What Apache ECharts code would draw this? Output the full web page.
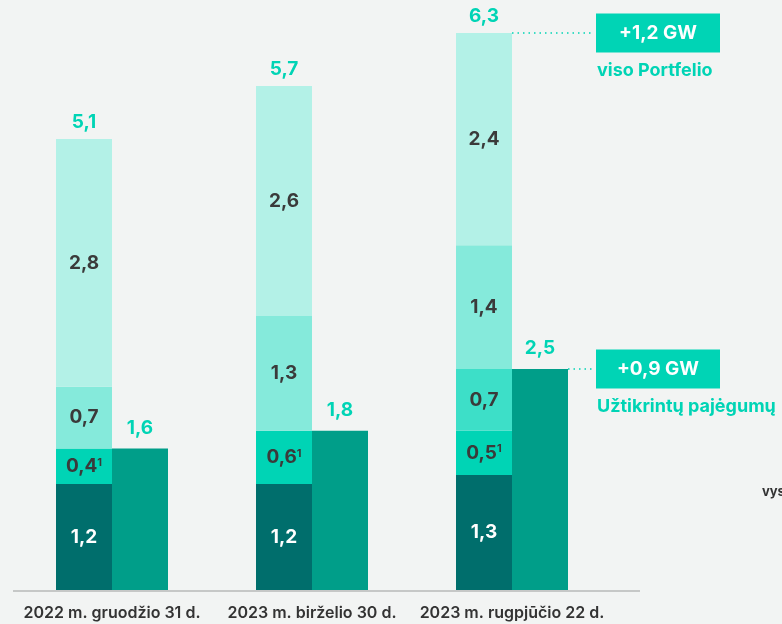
<!DOCTYPE html>
<html><head><meta charset="utf-8">
<script src="https://cdn.jsdelivr.net/npm/echarts@6/dist/echarts.min.js"></script>
<style>html,body{margin:0;padding:0;background:#f2f4f3}#c{width:782px;height:624px}</style>
</head><body><div id="c"></div>
<script>
const categories = ['2022 m. gruodžio 31 d.', '2023 m. birželio 30 d.', '2023 m. rugpjūčio 22 d.'];
const seg1 = [1.2, 1.2, 1.3];
const seg2 = [0.4, 0.6, 0.5];
const seg3 = [null, null, 0.7];
const seg4 = [0.7, 1.3, 1.4];
const seg5 = [2.8, 2.6, 2.4];
const totals = [5.1, 5.7, 6.3];
const secured = [1.6, 1.8, 2.5];
const noteTop = ['+1,2 GW', 'viso Portfelio'];
const noteBottom = ['+0,9 GW', 'Užtikrintų pajėgumų'];
const sideText = 'vys';

const FONT = 'Inter';
const DARK = '#3a3a3a';
const BRIGHT = '#00d4b5';
const fmt = v => String(v).replace('.', ',');

function inLabel(extra) {
  return Object.assign({show: true, position: 'inside', color: DARK, fontSize: 19, fontWeight: 'bold', fontFamily: FONT,
    formatter: p => p.value == null ? '' : fmt(p.value)}, extra || {});
}
const chart = echarts.init(document.getElementById('c'));
const BW = 56;
const option = {
  backgroundColor: '#f2f4f3',
  animation: false,
  grid: {left: 12, right: 170, top: 33, bottom: 34},
  xAxis: {type: 'category', data: categories, axisLine: {show: false}, axisTick: {show: false},
    axisLabel: {color: '#333', fontSize: 16, fontWeight: 600, fontFamily: FONT, margin: 15, interval: 0}},
  yAxis: {type: 'value', min: 0, max: 6.3, show: false, splitLine: {show: false}},
  series: [
    {type: 'bar', stack: 'p', barWidth: BW, data: seg1, itemStyle: {color: '#006e6c'}, label: inLabel({color: '#fff'})},
    {type: 'bar', stack: 'p', barWidth: BW, data: seg2, itemStyle: {color: '#00d4b5'},
      label: inLabel({formatter: p => fmt(p.value) + '{s|1}', rich: {s: {fontSize: 11, fontWeight: 'bold', color: DARK, fontFamily: FONT, verticalAlign: 'top', padding: [0,0,8,0]}}})},
    {type: 'bar', stack: 'p', barWidth: BW, data: seg3, itemStyle: {color: '#3ddfc8'}, label: inLabel()},
    {type: 'bar', stack: 'p', barWidth: BW, data: seg4, itemStyle: {color: '#85eadb'}, label: inLabel()},
    {type: 'bar', stack: 'p', barWidth: BW, data: seg5, itemStyle: {color: '#b3f1e7'}, label: inLabel()},
    {type: 'bar', stack: 'p', barWidth: BW, data: totals.map(() => 0), itemStyle: {color: 'transparent'},
      label: {show: true, position: 'top', distance: 7, color: BRIGHT, fontSize: 19, fontWeight: 'bold', fontFamily: FONT,
        formatter: p => fmt(totals[p.dataIndex])}},
    {type: 'bar', barWidth: BW, barGap: '0%', data: secured, itemStyle: {color: '#009e89'},
      label: {show: true, position: 'top', distance: 11, color: BRIGHT, fontSize: 19, fontWeight: 'bold', fontFamily: FONT, formatter: p => fmt(p.value)}}
  ]
};
chart.setOption(option);

const base = chart.convertToPixel({gridIndex: 0}, [0, 0]);
const pTop = chart.convertToPixel({gridIndex: 0}, [2, totals[2]]);
const pSec = chart.convertToPixel({gridIndex: 0}, [2, secured[2]]);
const boxX = 596, boxW = 124, boxH = 39;
function note(y, lines, lineStartX) {
  return [
    {type: 'line', shape: {x1: lineStartX, y1: y, x2: boxX - 2, y2: y}, style: {stroke: BRIGHT, lineWidth: 1.5, lineDash: [1.5, 4]}},
    {type: 'rect', shape: {x: boxX, y: y - boxH / 2, width: boxW, height: boxH}, style: {fill: '#00d4b5'}},
    {type: 'text', x: boxX + boxW / 2, y: y, style: {text: lines[0], fill: '#fff', font: 'bold 19px ' + FONT, align: 'center', verticalAlign: 'middle'}},
    {type: 'text', x: boxX + 1, y: y + boxH / 2 + 18, style: {text: lines[1], fill: BRIGHT, font: 'bold 18px ' + FONT, align: 'left', verticalAlign: 'middle'}}
  ];
}
chart.setOption({graphic: [
  {type: 'line', shape: {x1: 13, y1: base[1] + 1, x2: 640, y2: base[1] + 1}, style: {stroke: '#c6c8c7', lineWidth: 2}},
  ...note(pTop[1], noteTop, pTop[0]),
  ...note(pSec[1], noteBottom, pSec[0] + BW),
  {type: 'text', x: 762, y: 492, style: {text: sideText, fill: '#333', font: 'bold 13px ' + FONT, align: 'left', verticalAlign: 'middle'}}
]});
</script></body></html>
